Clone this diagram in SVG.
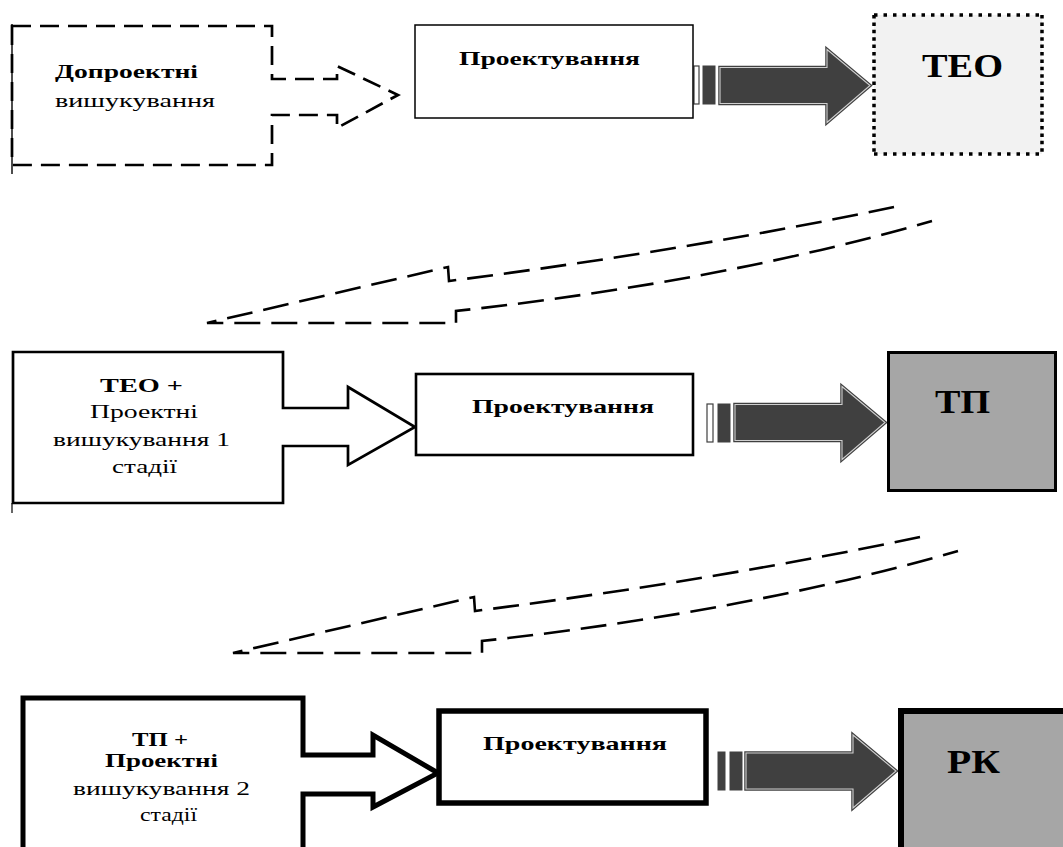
<svg xmlns="http://www.w3.org/2000/svg" width="1063" height="847" viewBox="0 0 1063 847">
  <style>
    text { font-family: "Liberation Serif", "DejaVu Serif", serif; fill: #000; }
    .b { font-weight: bold; }
    .lbl { font-size: 19px; }
    .big { font-size: 33px; font-weight: bold; }
    .dash { fill: none; stroke: #000; stroke-width: 2.6; stroke-dasharray: 26 11; }
    .box { fill: #fff; stroke: #000; }
    .grey { fill: #a6a6a6; stroke: #000; }
    .fat-out { fill: #404040; stroke: #404040; stroke-width: 3.5; stroke-linejoin: miter; }
    .fat-in { fill: #404040; stroke: #cfcfcf; stroke-width: 1.1; stroke-linejoin: miter; }
    .bar-w { fill: #fff; stroke: #404040; stroke-width: 1.2; }
    .bar-d { fill: #404040; stroke: #404040; stroke-width: 1; }
  </style>
  <defs>
    <!-- block arrow shape, tip at origin, pointing right -->
    <path id="fat" d="M-150,-18 H-43 V-36 L0,0 L-43,37 V18 H-150 Z"/>
    <!-- dashed returning arrow between rows -->
    <path id="ret" d="M894,207 Q690,250 449,281 L448,267 L207,323 L456,323 L456,311 Q720,282 932,221"/>
  </defs>

  <rect width="1063" height="847" fill="#fff"/>

  <!-- connectors -->
  <g id="connectors">
    <!-- row 1 -->
    <rect class="bar-w" x="694" y="66" width="5" height="38"/>
    <rect class="bar-d" x="703" y="66" width="12" height="38"/>
    <g transform="translate(870,85.5)">
      <use href="#fat" class="fat-out"/>
      <use href="#fat" class="fat-in"/>
    </g>
    <!-- row 1 to row 2 -->
    <use href="#ret" class="dash"/>
    <!-- row 2 -->
    <rect class="bar-w" x="707" y="404" width="6" height="38"/>
    <rect class="bar-d" x="718" y="404" width="12" height="38"/>
    <g transform="translate(887,422.5)">
      <use href="#fat" class="fat-out" transform="translate(-2,0)"/>
      <use href="#fat" class="fat-in" transform="translate(-2,0)"/>
    </g>
    <!-- row 2 to row 3 -->
    <use href="#ret" class="dash" transform="translate(26,330)"/>
    <!-- row 3 -->
    <rect class="bar-d" x="718" y="752" width="7" height="38"/>
    <rect class="bar-d" x="730" y="752" width="12" height="38"/>
    <g transform="translate(898,771)">
      <use href="#fat" class="fat-out" transform="translate(-2,0)"/>
      <use href="#fat" class="fat-in" transform="translate(-2,0)"/>
    </g>
  </g>

  <!-- row 1 -->
  <g id="pre-survey">
    <path d="M12,26 H272 V79 H337 V66 L398,95 L337,128 V115 H272 V165 H12 Z" fill="#fff" stroke="#000" stroke-width="2.7" stroke-dasharray="19 9"/>
    <line x1="12" y1="24" x2="12" y2="174" stroke="#000" stroke-width="1.4"/>
    <text class="lbl b" x="55" y="78" textLength="143" lengthAdjust="spacingAndGlyphs">Допроектні</text>
    <text class="lbl" x="55" y="107" textLength="160" lengthAdjust="spacingAndGlyphs">вишукування</text>
  </g>
  <g id="design-1">
    <rect class="box" x="415" y="25" width="278" height="93" stroke-width="1.5"/>
    <text class="lbl b" x="459" y="65" textLength="181" lengthAdjust="spacingAndGlyphs">Проектування</text>
  </g>
  <g id="teo">
    <rect x="874" y="15" width="168" height="139" fill="#f2f2f2"/>
    <g stroke="#000" stroke-width="3.5" fill="none">
      <line x1="874" y1="15" x2="1042" y2="15" stroke-dasharray="3.5 6"/>
      <line x1="874" y1="154" x2="1042" y2="154" stroke-dasharray="3.5 6"/>
      <line x1="874" y1="15" x2="874" y2="154" stroke-dasharray="3.5 3.9"/>
      <line x1="1042" y1="15" x2="1042" y2="154" stroke-dasharray="3.5 3.9"/>
    </g>
    <text class="big" x="922" y="77" textLength="81" lengthAdjust="spacingAndGlyphs">ТЕО</text>
  </g>

  <!-- row 2 -->
  <g id="teo-survey-1">
    <path class="box" d="M13,352 H283 V408 H348 V387 L415,427 L348,465 V446 H283 V503 H13 Z" stroke-width="2.7"/>
    <line x1="12" y1="503" x2="12" y2="513" stroke="#000" stroke-width="1.2"/>
    <text class="lbl b" x="100" y="392" textLength="83" lengthAdjust="spacingAndGlyphs">ТЕО +</text>
    <text class="lbl" x="90" y="418" textLength="108" lengthAdjust="spacingAndGlyphs">Проектні</text>
    <text class="lbl" x="53" y="446" textLength="177" lengthAdjust="spacingAndGlyphs">вишукування 1</text>
    <text class="lbl" x="112" y="473" textLength="65" lengthAdjust="spacingAndGlyphs">стадії</text>
  </g>
  <g id="design-2">
    <rect class="box" x="416" y="374" width="277" height="81" stroke-width="2.6"/>
    <text class="lbl b" x="472" y="413" textLength="182" lengthAdjust="spacingAndGlyphs">Проектування</text>
  </g>
  <g id="tp">
    <rect class="grey" x="888.5" y="352.5" width="167" height="138" stroke-width="3"/>
    <text class="big" x="935" y="413" textLength="55" lengthAdjust="spacingAndGlyphs">ТП</text>
  </g>

  <!-- row 3 -->
  <g id="tp-survey-2">
    <path class="box" d="M23,698 H303 V755 H373 V735 L438,773 L373,807 V794 H303 V860 H23 Z" stroke-width="5"/>
    <text class="lbl b" x="132" y="746" textLength="56" lengthAdjust="spacingAndGlyphs">ТП +</text>
    <text class="lbl b" x="105" y="767" textLength="113" lengthAdjust="spacingAndGlyphs">Проектні</text>
    <text class="lbl" x="73" y="795" textLength="177" lengthAdjust="spacingAndGlyphs">вишукування 2</text>
    <text class="lbl" x="140" y="821" textLength="57" lengthAdjust="spacingAndGlyphs">стадії</text>
  </g>
  <g id="design-3">
    <rect class="box" x="439" y="711" width="267" height="92" stroke-width="5.5"/>
    <text class="lbl b" x="483" y="750" textLength="184" lengthAdjust="spacingAndGlyphs">Проектування</text>
  </g>
  <g id="rk">
    <rect class="grey" x="901" y="711" width="200" height="200" stroke-width="6"/>
    <text class="big" x="947" y="773" textLength="53" lengthAdjust="spacingAndGlyphs">РК</text>
  </g>
</svg>
